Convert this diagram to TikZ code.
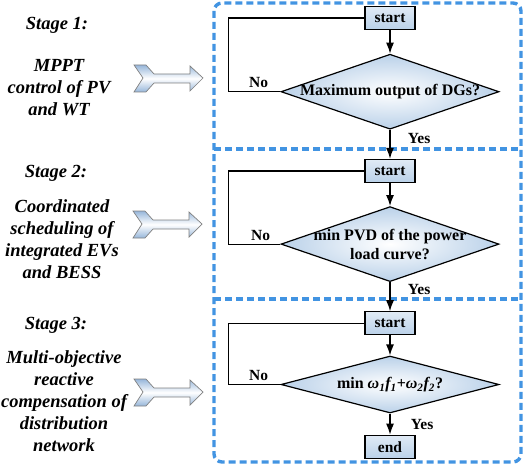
\documentclass[tikz,border=0pt]{standalone}
\usepackage{fontspec}
\setmainfont{Liberation Serif}
\usepackage{tikz}
\usetikzlibrary{shapes.geometric, arrows.meta, calc, positioning}
\definecolor{frameblue}{RGB}{66,148,226}
\definecolor{boxblue}{RGB}{186,209,233}
\definecolor{arrowblue}{RGB}{150,182,218}
\tikzstyle{startbox} = [rectangle, line width=1.2pt, minimum width=50pt, minimum height=23pt, inner sep=0pt, draw=black, top color=boxblue!45, bottom color=boxblue, font=\fontsize{15.5}{18}\selectfont\bfseries]
\tikzstyle{decision} = [diamond, line width=1.2pt, minimum width=218pt, minimum height=75pt, inner sep=0pt, draw=black, inner color=white, outer color=boxblue]
\tikzstyle{dectext} = [align=center, font=\fontsize{16}{19}\selectfont\bfseries]
\tikzstyle{stagetext} = [align=center, font=\fontsize{18.5}{22}\selectfont\bfseries\itshape]
\tikzstyle{lbl} = [font=\fontsize{15.5}{18}\selectfont\bfseries]
\tikzstyle{support} = [coordinate]
\tikzstyle{arrow} = [line width=1.2pt,-{Latex[length=11pt,width=8pt]}]
\tikzstyle{loopline} = [line width=1.2pt]
\tikzstyle{stageframe} = [line width=3.4pt, draw=frameblue, dash pattern=on 7pt off 4pt]
\tikzstyle{blockarrow} = [draw=gray, line width=0.7pt, top color=arrowblue, bottom color=arrowblue, middle color=white]
\newcommand{\stagearrow}[1]{\draw[blockarrow, shift={(#1)}] (-34,-13) -- (-22,-13) -- (-14,-4) -- (22,-4) -- (22,-12) -- (35,0) -- (22,13) -- (22,5) -- (-14,5) -- (-22,14) -- (-34,14) -- (-25,0) -- cycle;}

\begin{document}
\begin{tikzpicture}[x=1pt, y=-1pt]
		\useasboundingbox (0,0) rectangle (526,465);
		\draw [stageframe, rounded corners=8pt] (214,3) rectangle (521,462);
		\draw [stageframe] (214,149) -- (521,149);
		\draw [stageframe] (214,299) -- (521,299);

		\node (Stage1) [stagetext] at (57,25) {Stage 1:};
		\node (Stage1Desc) [stagetext] at (59,88) {MPPT\\control of PV\\and WT};
		\node (Stage2) [stagetext] at (56,173) {Stage 2:};
		\node (Stage2Desc) [stagetext] at (62,239) {Coordinated\\scheduling of\\integrated EVs\\and BESS};
		\node (Stage3) [stagetext] at (56,325) {Stage 3:};
		\node (Stage3Desc) [stagetext] at (64,401) {Multi-objective\\reactive\\compensation of\\distribution\\network};

		\node (Arrow1) [support] at (168,78) {};
		\node (Arrow2) [support] at (167,224) {};
		\node (Arrow3) [support] at (168,392) {};
		\stagearrow{Arrow1}
		\stagearrow{Arrow2}
		\stagearrow{Arrow3}

		\node (Start1) [startbox] at (390,18) {start};
		\node (Dec1) [decision, below = 23.5pt of Start1] {};
		\node (Dec1Text) [dectext] at (Dec1) {Maximum output of DGs?};
		\node (Start2) [startbox, below = 29pt of Dec1] {start};
		\node (Dec2) [decision, below = 23pt of Start2] {};
		\node (Dec2Text) [dectext] at (Dec2) {min PVD of the power\\load curve?};
		\node (Start3) [startbox, below = 29pt of Dec2] {start};
		\node (Dec3) [decision, minimum height=57pt, below = 20pt of Start3] {};
		\node (Dec3Text) [dectext] at (Dec3) {min \textit{ω\textsubscript{1}f\textsubscript{1}}+\textit{ω\textsubscript{2}f\textsubscript{2}}?};
		\node (End) [startbox, below = 21pt of Dec3] {end};

		\node (Loop1) [support, left = 52pt of Dec1.west] {};
		\node (Loop2) [support, left = 52pt of Dec2.west] {};
		\node (Loop3) [support, left = 52pt of Dec3.west] {};

		\draw [arrow] (Start1) -- (Dec1);
		\draw [arrow] (Dec1) -- node[pos=0.3, right=14pt, lbl] {Yes} (Start2);
		\draw [arrow] (Start2) -- (Dec2);
		\draw [arrow] (Dec2) -- node[pos=0.24, right=14pt, lbl] {Yes} (Start3);
		\draw [arrow] (Start3) -- (Dec3);
		\draw [arrow] (Dec3) -- node[pos=0.5, right=17pt, lbl] {Yes} (End);

		\draw [loopline] (Dec1.west) -- node[pos=0.42, above, lbl] {No} (Loop1) |- (Start1.west);
		\draw [loopline] (Dec2.west) -- node[pos=0.38, above, lbl] {No} (Loop2) |- (Start2.west);
		\draw [loopline] (Dec3.west) -- node[pos=0.42, above, lbl] {No} (Loop3) |- (Start3.west);
\end{tikzpicture}
\end{document}
